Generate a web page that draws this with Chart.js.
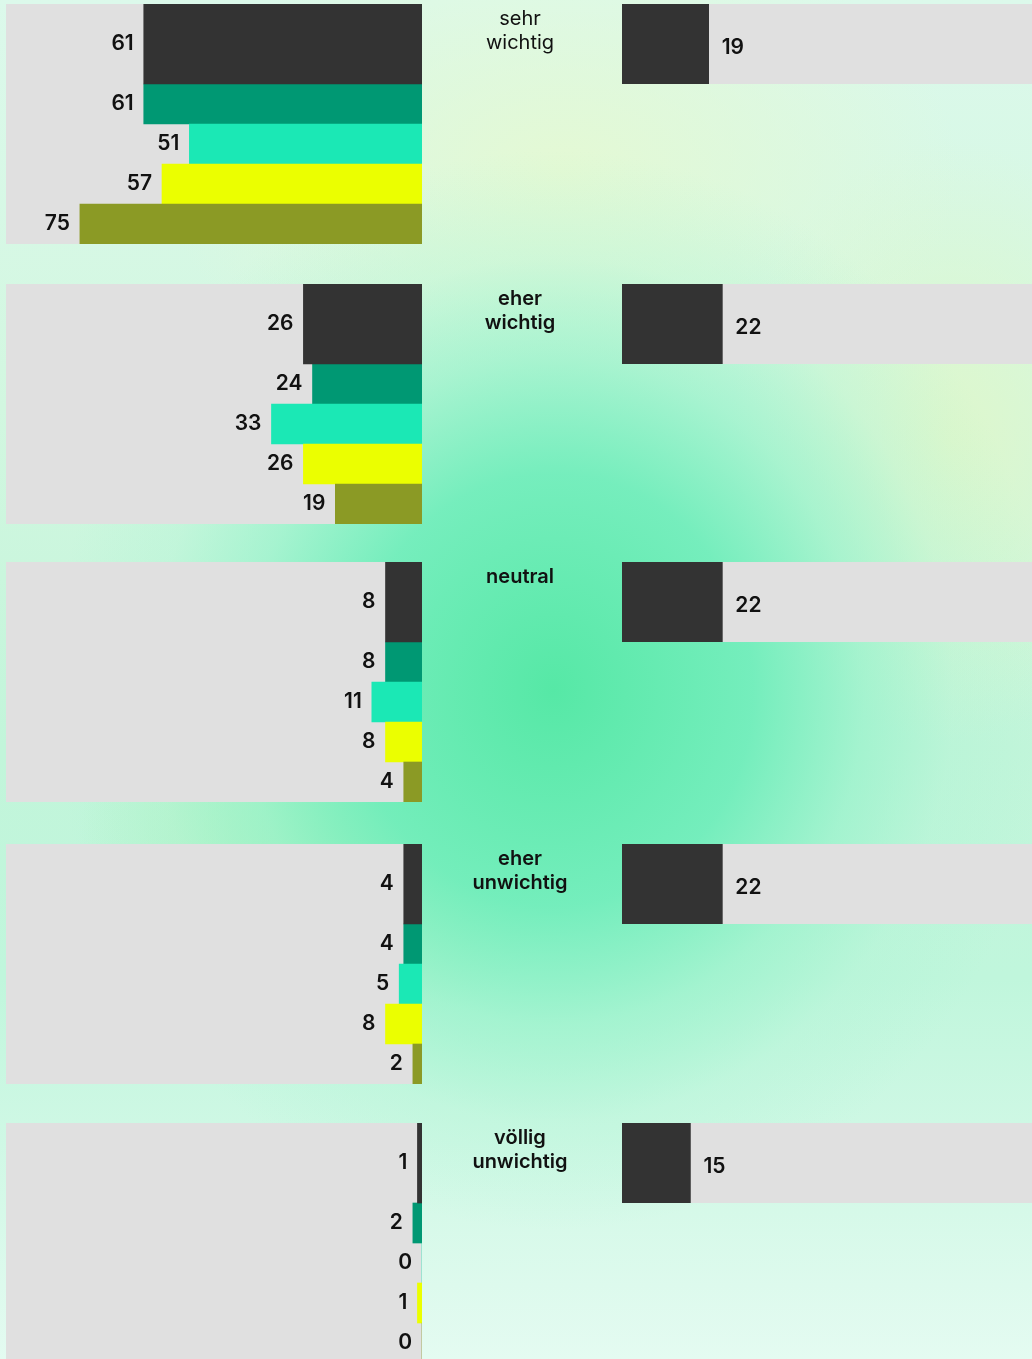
<!DOCTYPE html>
<html lang="de">
<head>
<meta charset="utf-8">
<title>Wichtigkeit</title>
<script src="https://cdn.jsdelivr.net/npm/chart.js@4.4.0/dist/chart.umd.min.js"></script>
<style>
  html, body { margin: 0; padding: 0; }
  #page {
    position: relative;
    width: 1032px;
    height: 1359px;
    overflow: hidden;
    font-family: Inter, "Open Sans", sans-serif;
    background:
      radial-gradient(ellipse 500px 540px at 553px 690px, rgba(86,232,166,1) 0%, rgba(110,237,186,0.92) 40%, rgba(150,242,202,0.7) 62%, rgba(170,244,210,0.3) 80%, rgba(190,247,220,0) 100%),
      radial-gradient(ellipse 400px 250px at 560px 170px, rgba(228,249,212,1) 0%, rgba(228,249,212,0) 100%),
      radial-gradient(ellipse 220px 300px at 950px 440px, rgba(222,247,204,1) 0%, rgba(222,247,204,0) 100%),
      radial-gradient(ellipse 260px 200px at 340px 830px, rgba(165,240,178,0.9) 0%, rgba(165,240,178,0) 100%),
      linear-gradient(180deg, #dcf9eb 0%, #d2f7e0 30%, #c2f5da 55%, #c0f6dc 72%, #e4fbf1 100%);
  }
  canvas { position: absolute; background: #e0e0e0; }
  .label {
    position: absolute;
    left: 420px;
    width: 200px;
    text-align: center;
    font-size: 20px;
    line-height: 24px;
    font-weight: 600;
    color: #111;
  }
</style>
</head>
<body>
<div id="page"></div>
<script>
const categories = ['sehr wichtig', 'eher wichtig', 'neutral', 'eher unwichtig', 'völlig unwichtig'];
// dark "total" bar on the left
const totalValues = [61, 26, 8, 4, 1];
// four coloured groups below it
const series1 = [61, 24, 8, 4, 2];
const series2 = [51, 33, 11, 5, 0];
const series3 = [57, 26, 8, 8, 1];
const series4 = [75, 19, 4, 2, 0];
// single bar on the right
const rightValues = [19, 22, 22, 22, 15];

const totalColor = '#333333';
const seriesColors = ['#009873', '#1be8b5', '#ebff00', '#8b9a25'];
const groupTops = [4, 284, 562, 844, 1123];
const axisMax = 91.2;

const page = document.getElementById('page');

const valueLabels = {
  id: 'valueLabels',
  afterDatasetsDraw(chart, args, opts) {
    const ctx = chart.ctx;
    ctx.save();
    ctx.font = '600 21px Inter, "Open Sans", sans-serif';
    ctx.fillStyle = '#111';
    ctx.textBaseline = 'middle';
    chart.data.datasets.forEach((ds, di) => {
      chart.getDatasetMeta(di).data.forEach((bar, i) => {
        const d = ds.data[i];
        const v = typeof d === 'object' ? d.x : d;
        if (opts.side === 'left') {
          ctx.textAlign = 'right';
          ctx.fillText(v, bar.x - 10, bar.y);
        } else {
          ctx.textAlign = 'left';
          ctx.fillText(v, bar.x + 13, bar.y + 4);
        }
      });
    });
    ctx.restore();
  }
};

function makeCanvas(left, top, w, h) {
  const c = document.createElement('canvas');
  c.width = w;
  c.height = h;
  c.style.left = left + 'px';
  c.style.top = top + 'px';
  page.appendChild(c);
  return c;
}

categories.forEach((cat, g) => {
  const top = groupTops[g];
  const cols = [series1, series2, series3, series4];

  new Chart(makeCanvas(6, top, 416, 240), {
    type: 'bar',
    data: {
      datasets: [
        {
          data: [{ x: totalValues[g], y: 1 }],
          backgroundColor: totalColor,
          barThickness: 80,
          grouped: false
        },
        {
          data: cols.map((s, k) => ({ x: s[g], y: 2.5 + k })),
          backgroundColor: seriesColors,
          barThickness: 40,
          grouped: false
        }
      ]
    },
    options: {
      indexAxis: 'y',
      responsive: false,
      animation: false,
      layout: { padding: 0 },
      scales: {
        x: { type: 'linear', min: 0, max: axisMax, reverse: true, display: false },
        y: { type: 'linear', min: 0, max: 6, reverse: true, offset: false, display: false }
      },
      plugins: {
        legend: { display: false },
        tooltip: { enabled: false },
        valueLabels: { side: 'left' }
      }
    },
    plugins: [valueLabels]
  });

  new Chart(makeCanvas(622, top, 416, 80), {
    type: 'bar',
    data: {
      labels: [cat],
      datasets: [{
        data: [rightValues[g]],
        backgroundColor: totalColor,
        barPercentage: 1,
        categoryPercentage: 1
      }]
    },
    options: {
      indexAxis: 'y',
      responsive: false,
      animation: false,
      layout: { padding: 0 },
      scales: {
        x: { min: 0, max: axisMax, display: false },
        y: { display: false }
      },
      plugins: {
        legend: { display: false },
        tooltip: { enabled: false },
        valueLabels: { side: 'right' }
      }
    },
    plugins: [valueLabels]
  });

  const lbl = document.createElement('div');
  lbl.className = 'label';
  lbl.style.top = (top + 2) + 'px';
  if (g === 0) lbl.style.fontWeight = '400';
  lbl.innerHTML = cat.replace(' ', '<br>');
  page.appendChild(lbl);
});
</script>
</body>
</html>
